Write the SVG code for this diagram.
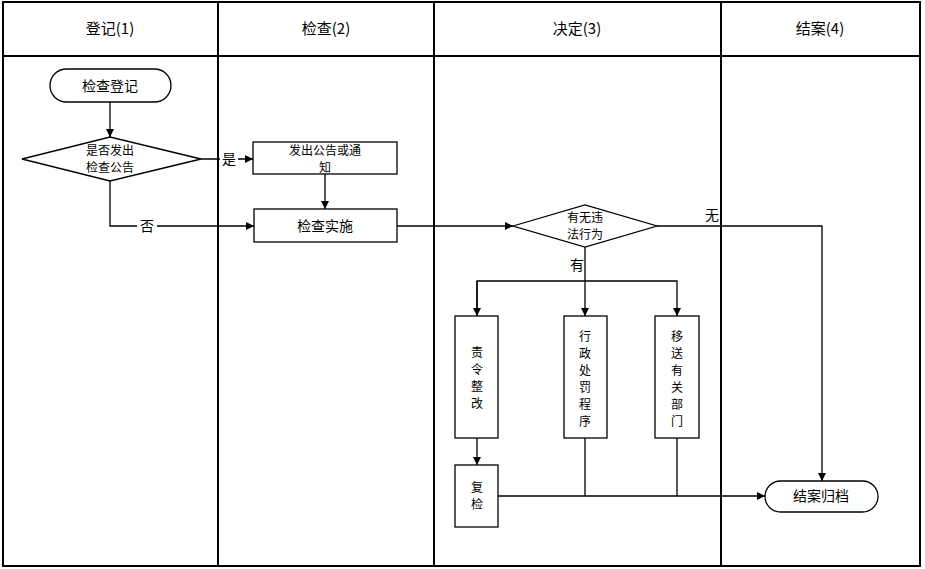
<svg xmlns="http://www.w3.org/2000/svg" width="925" height="569" viewBox="0 0 925 569">
<style>
text{font-family:"Noto Sans CJK SC","Liberation Sans",sans-serif;font-size:14px;fill:#000;text-anchor:middle}
.m{font-size:12px}
.h{font-size:15px}
.n{fill:#fff;stroke:#000;stroke-width:1.3}
.c{fill:none;stroke:#000;stroke-width:1.3}
.lane{fill:none;stroke:#000;stroke-width:2}
</style>
<defs><marker id="a" viewBox="0 0 10 10" refX="10" refY="5" markerWidth="8" markerHeight="8" markerUnits="userSpaceOnUse" orient="auto"><path d="M0,0L10,5L0,10z" fill="#000"/></marker></defs>
<rect x="0" y="0" width="925" height="569" fill="#fff"/>
<g id="lanes">
<rect class="lane" x="3" y="2" width="917" height="564"/>
<line class="lane" x1="3" y1="56" x2="920" y2="56"/>
<line class="lane" x1="218" y1="2" x2="218" y2="566"/>
<line class="lane" x1="434" y1="2" x2="434" y2="566"/>
<line class="lane" x1="721" y1="2" x2="721" y2="566"/>
<text class="h" x="110" y="34">登记(1)</text>
<text class="h" x="326" y="34">检查(2)</text>
<text class="h" x="577" y="34">决定(3)</text>
<text class="h" x="820" y="34">结案(4)</text>
</g>
<g id="connectors">
<path class="c" d="M110,102V137" marker-end="url(#a)"/>
<path class="c" d="M201,159H253" marker-end="url(#a)"/>
<path class="c" d="M325,174V209" marker-end="url(#a)"/>
<path class="c" d="M110,181V226H254" marker-end="url(#a)"/>
<path class="c" d="M397,226H513" marker-end="url(#a)"/>
<path class="c" d="M657,226H822V481" marker-end="url(#a)"/>
<path class="c" d="M585,247V316" marker-end="url(#a)"/>
<path class="c" d="M477,316V281H677V316" marker-end="url(#a)"/>
<path class="c" d="M477,281V316" marker-end="url(#a)"/>
<path class="c" d="M477,438V465" marker-end="url(#a)"/>
<path class="c" d="M498,496H765" marker-end="url(#a)"/>
<path class="c" d="M585,438V496M677,438V496"/>
<rect x="220" y="152" width="18" height="16" fill="#fff"/>
<text x="229" y="164">是</text>
<rect x="137" y="219" width="20" height="16" fill="#fff"/>
<text x="147" y="231">否</text>
<text x="712" y="220">无</text>
<text x="577" y="270">有</text>
</g>
<g id="n1"><rect class="n" x="50" y="69" width="121" height="33" rx="16.5"/><text x="110" y="91">检查登记</text></g>
<g id="n2"><polygon class="n" points="22,159 110,137 201,159 110,181"/><text class="m" x="110" y="155">是否发出</text><text class="m" x="110" y="172">检查公告</text></g>
<g id="n3"><rect class="n" x="253" y="142" width="144" height="32"/><text class="m" x="325" y="155">发出公告或通</text><text class="m" x="325" y="172">知</text></g>
<g id="n4"><rect class="n" x="254" y="209" width="143" height="33"/><text x="325" y="231">检查实施</text></g>
<g id="n5"><polygon class="n" points="513,226 585,205 657,226 585,247"/><text class="m" x="585" y="222">有无违</text><text class="m" x="585" y="239">法行为</text></g>
<g id="n6"><rect class="n" x="455" y="316" width="43" height="122"/><text class="m" x="477" y="357">责</text><text class="m" x="477" y="374">令</text><text class="m" x="477" y="391">整</text><text class="m" x="477" y="408">改</text></g>
<g id="n7"><rect class="n" x="564" y="316" width="43" height="122"/><text class="m" x="585" y="341">行</text><text class="m" x="585" y="358">政</text><text class="m" x="585" y="375">处</text><text class="m" x="585" y="392">罚</text><text class="m" x="585" y="409">程</text><text class="m" x="585" y="426">序</text></g>
<g id="n8"><rect class="n" x="655" y="316" width="44" height="122"/><text class="m" x="677" y="341">移</text><text class="m" x="677" y="358">送</text><text class="m" x="677" y="375">有</text><text class="m" x="677" y="392">关</text><text class="m" x="677" y="409">部</text><text class="m" x="677" y="426">门</text></g>
<g id="n9"><rect class="n" x="455" y="465" width="43" height="62"/><text class="m" x="477" y="492">复</text><text class="m" x="477" y="509">检</text></g>
<g id="n10"><rect class="n" x="765" y="481" width="113" height="31" rx="15.5"/><text x="821" y="501">结案归档</text></g>
</svg>
